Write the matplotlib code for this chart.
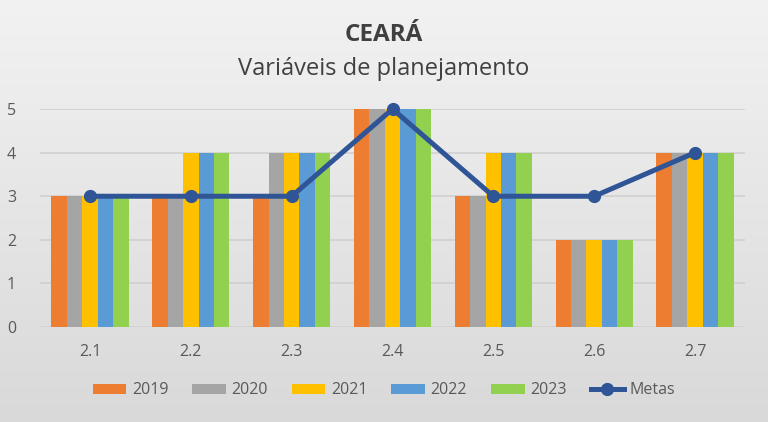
import numpy as np
import matplotlib.pyplot as plt

plt.rcParams['font.family'] = ['Open Sans', 'DejaVu Sans']

categories = ['2.1', '2.2', '2.3', '2.4', '2.5', '2.6', '2.7']
years = ['2019', '2020', '2021', '2022', '2023']
v2019 = [3, 3, 3, 5, 3, 2, 4]
v2020 = [3, 3, 4, 5, 3, 2, 4]
v2021 = [3, 4, 4, 5, 4, 2, 4]
v2022 = [3, 4, 4, 5, 4, 2, 4]
v2023 = [3, 4, 4, 5, 4, 2, 4]
metas = [3, 3, 3, 5, 3, 3, 4]

series = [v2019, v2020, v2021, v2022, v2023]
colors = ['#ED7D31', '#A5A5A5', '#FFC000', '#5B9BD5', '#92D050']

fig = plt.figure(figsize=(7.68, 4.22), dpi=100)

# gradient background
bg = fig.add_axes([0, 0, 1, 1], zorder=-10)
grad = np.linspace(0, 1, 256).reshape(-1, 1)
bg.imshow(grad, aspect='auto', cmap=plt.matplotlib.colors.LinearSegmentedColormap.from_list(
    'bg', ['#F2F2F2', '#D9D9D9']), extent=[0, 1, 0, 1], origin='upper')
bg.axis('off')

ax = fig.add_axes([0.0516, 0.225, 0.919, 0.5166])
ax.patch.set_alpha(0)
x = np.arange(len(categories))
w = 0.153
handles = []
for i, (vals, c, lab) in enumerate(zip(series, colors, years)):
    handles.append(ax.bar(x + (i - 2) * w, vals, width=w, color=c, label=lab, zorder=2))
line, = ax.plot(x, metas, color='#2F5597', lw=3.6, marker='o', ms=8.5, label='Metas',
                zorder=3, clip_on=False)
handles.append(line)

ax.set_xlim(-0.5, len(categories) - 0.5)
ax.set_ylim(0, 5)
ax.set_yticks(range(6))
ax.set_xticks(x)
ax.set_xticklabels(categories)
ax.grid(axis='y', color='#D0D0D0', lw=1.2, zorder=0)
for s in ax.spines.values():
    s.set_visible(False)
ax.tick_params(length=0, labelsize=11.5, colors='#595959')
ax.tick_params(axis='y', pad=17)
ax.tick_params(axis='x', pad=12)

fig.text(0.5, 0.916, 'CEARÁ', ha='center', va='center', fontsize=17.5,
         fontweight='bold', color='#404040')
fig.text(0.5, 0.836, 'Variáveis de planejamento', ha='center', va='center',
         fontsize=17, color='#404040')

fig.legend(handles=handles, loc='center', bbox_to_anchor=(0.5, 0.075), ncol=6,
           frameon=False, fontsize=11.5, labelcolor='#595959', handlelength=2.1,
           handleheight=0.6, columnspacing=1.5, handletextpad=0.35)

fig.savefig('out.png', dpi=100)
